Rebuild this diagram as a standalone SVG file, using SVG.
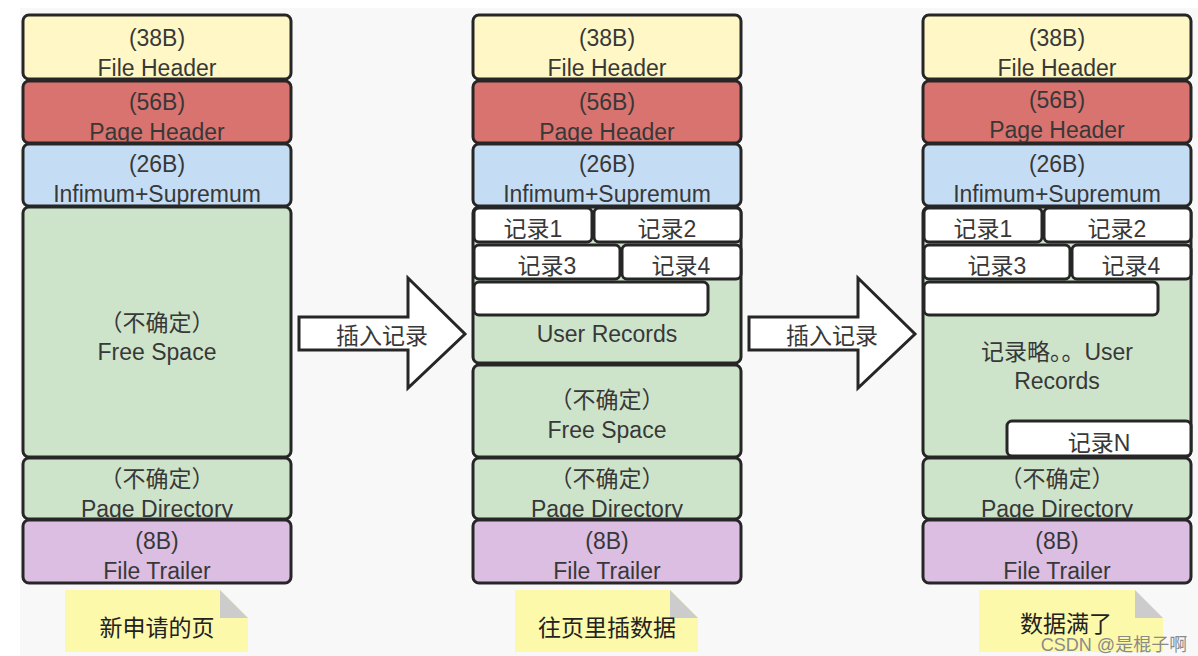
<svg xmlns="http://www.w3.org/2000/svg" width="1198" height="656" viewBox="0 0 1198 656">
<style>
.b{stroke:#262626;stroke-width:3}
.t{font-family:"Liberation Sans","Noto Sans CJK SC",sans-serif;font-size:23px;fill:#383838;text-anchor:middle}
.n{font-family:"Liberation Sans","Noto Sans CJK SC",sans-serif;font-size:23px;fill:#222;text-anchor:middle}
.yel{fill:#fff8c6}.red{fill:#d8736f}.blu{fill:#c4ddf5}.grn{fill:#cde4cb}.pur{fill:#dcbee2}.wht{fill:#ffffff}
.note{fill:#fdf9aa}.fold{fill:#cccccc}
</style>
<rect x="0" y="0" width="1198" height="656" fill="#ffffff"/>
<rect x="20" y="8" width="1178" height="648" fill="#f8f8f8"/>

<!-- Column 1 -->
<g id="col1">
<g id="c1-fileheader"><rect class="b yel" x="23" y="15" width="268" height="64" rx="6"/><text class="t" x="157" y="46">(38B)</text><text class="t" x="157" y="76">File Header</text></g>
<g id="c1-pageheader"><rect class="b red" x="23" y="81" width="268" height="62" rx="6"/><text class="t" x="157" y="110">(56B)</text><text class="t" x="157" y="140">Page Header</text></g>
<g id="c1-infsup"><rect class="b blu" x="23" y="144" width="268" height="62" rx="6"/><text class="t" x="157" y="172">(26B)</text><text class="t" x="157" y="202">Infimum+Supremum</text></g>
<g id="c1-free"><rect class="b grn" x="23" y="207" width="268" height="250" rx="6"/><text class="t" x="157" y="331">（不确定）</text><text class="t" x="157" y="360">Free Space</text></g>
<g id="c1-pagedir"><rect class="b grn" x="23" y="458" width="268" height="61" rx="6"/><text class="t" x="157" y="487">（不确定）</text><text class="t" x="157" y="517">Page Directory</text></g>
<g id="c1-trailer"><rect class="b pur" x="23" y="520" width="268" height="63" rx="6"/><text class="t" x="157" y="549">(8B)</text><text class="t" x="157" y="579">File Trailer</text></g>
</g>
<g id="note1"><path class="note" d="M65 590 H220 L248 618 V652 H65 Z"/><path class="fold" d="M220 590 L248 618 H220 Z"/><text class="n" x="157" y="636">新申请的页</text></g>

<!-- Column 2 -->
<g id="col2">
<g id="c2-fileheader"><rect class="b yel" x="473" y="15" width="268" height="64" rx="6"/><text class="t" x="607" y="46">(38B)</text><text class="t" x="607" y="76">File Header</text></g>
<g id="c2-pageheader"><rect class="b red" x="473" y="81" width="268" height="62" rx="6"/><text class="t" x="607" y="110">(56B)</text><text class="t" x="607" y="140">Page Header</text></g>
<g id="c2-infsup"><rect class="b blu" x="473" y="144" width="268" height="62" rx="6"/><text class="t" x="607" y="172">(26B)</text><text class="t" x="607" y="202">Infimum+Supremum</text></g>
<g id="c2-user"><rect class="b grn" x="473" y="207" width="268" height="156" rx="6"/><text class="t" x="607" y="342">User Records</text></g>
<g id="c2-r1"><rect class="b wht" x="474" y="208" width="118" height="34" rx="5"/><text class="t" x="533" y="237">记录1</text></g>
<g id="c2-r2"><rect class="b wht" x="594" y="208" width="147" height="34" rx="5"/><text class="t" x="667" y="237">记录2</text></g>
<g id="c2-r3"><rect class="b wht" x="474" y="245" width="146" height="34" rx="5"/><text class="t" x="547" y="274">记录3</text></g>
<g id="c2-r4"><rect class="b wht" x="622" y="245" width="119" height="34" rx="5"/><text class="t" x="681" y="274">记录4</text></g>
<g id="c2-r5"><rect class="b wht" x="474" y="282" width="234" height="33" rx="5"/></g>
<g id="c2-free"><rect class="b grn" x="473" y="365" width="268" height="92" rx="6"/><text class="t" x="607" y="408">（不确定）</text><text class="t" x="607" y="438">Free Space</text></g>
<g id="c2-pagedir"><rect class="b grn" x="473" y="458" width="268" height="61" rx="6"/><text class="t" x="607" y="487">（不确定）</text><text class="t" x="607" y="517">Page Directory</text></g>
<g id="c2-trailer"><rect class="b pur" x="473" y="520" width="268" height="63" rx="6"/><text class="t" x="607" y="549">(8B)</text><text class="t" x="607" y="579">File Trailer</text></g>
</g>
<g id="note2"><path class="note" d="M515 590 H670 L698 618 V652 H515 Z"/><path class="fold" d="M670 590 L698 618 H670 Z"/><text class="n" x="607" y="636">往页里插数据</text></g>

<!-- Column 3 -->
<g id="col3">
<g id="c3-fileheader"><rect class="b yel" x="923" y="15" width="268" height="64" rx="6"/><text class="t" x="1057" y="46">(38B)</text><text class="t" x="1057" y="76">File Header</text></g>
<g id="c3-pageheader"><rect class="b red" x="923" y="81" width="268" height="62" rx="6"/><text class="t" x="1057" y="108">(56B)</text><text class="t" x="1057" y="138">Page Header</text></g>
<g id="c3-infsup"><rect class="b blu" x="923" y="144" width="268" height="62" rx="6"/><text class="t" x="1057" y="172">(26B)</text><text class="t" x="1057" y="202">Infimum+Supremum</text></g>
<g id="c3-user"><rect class="b grn" x="923" y="207" width="268" height="250" rx="6"/><text class="t" x="1057" y="360">记录略。。User</text><text class="t" x="1057" y="389">Records</text></g>
<g id="c3-r1"><rect class="b wht" x="924" y="208" width="118" height="34" rx="5"/><text class="t" x="983" y="237">记录1</text></g>
<g id="c3-r2"><rect class="b wht" x="1044" y="208" width="147" height="34" rx="5"/><text class="t" x="1117" y="237">记录2</text></g>
<g id="c3-r3"><rect class="b wht" x="924" y="245" width="146" height="34" rx="5"/><text class="t" x="997" y="274">记录3</text></g>
<g id="c3-r4"><rect class="b wht" x="1072" y="245" width="119" height="34" rx="5"/><text class="t" x="1131" y="274">记录4</text></g>
<g id="c3-r5"><rect class="b wht" x="924" y="282" width="234" height="33" rx="5"/></g>
<g id="c3-rn"><rect class="b wht" x="1007" y="421" width="184" height="35" rx="5"/><text class="t" x="1099" y="451">记录N</text></g>
<g id="c3-pagedir"><rect class="b grn" x="923" y="458" width="268" height="61" rx="6"/><text class="t" x="1057" y="487">（不确定）</text><text class="t" x="1057" y="517">Page Directory</text></g>
<g id="c3-trailer"><rect class="b pur" x="923" y="520" width="268" height="63" rx="6"/><text class="t" x="1057" y="549">(8B)</text><text class="t" x="1057" y="579">File Trailer</text></g>
</g>
<g id="note3"><path class="note" d="M979 590 H1135 L1163 618 V652 H979 Z"/><path class="fold" d="M1135 590 L1163 618 H1135 Z"/><text class="n" x="1066" y="632">数据满了</text></g>

<!-- Connectors -->
<g id="connectors">
<g id="arrow1"><path class="b" fill="#ffffff" stroke-linejoin="miter" d="M299 317 H408 V278 L465 334 L408 388 V350 H299 Z"/><text class="t" x="382" y="344">插入记录</text></g>
<g id="arrow2"><path class="b" fill="#ffffff" stroke-linejoin="miter" d="M749 317 H858 V278 L915 334 L858 388 V350 H749 Z"/><text class="t" x="832" y="344">插入记录</text></g>
</g>

<text x="1114" y="651" font-family="'Liberation Sans','Noto Sans CJK SC',sans-serif" font-size="18" fill="#8a8a8a" text-anchor="middle">CSDN @是棍子啊</text>
</svg>
